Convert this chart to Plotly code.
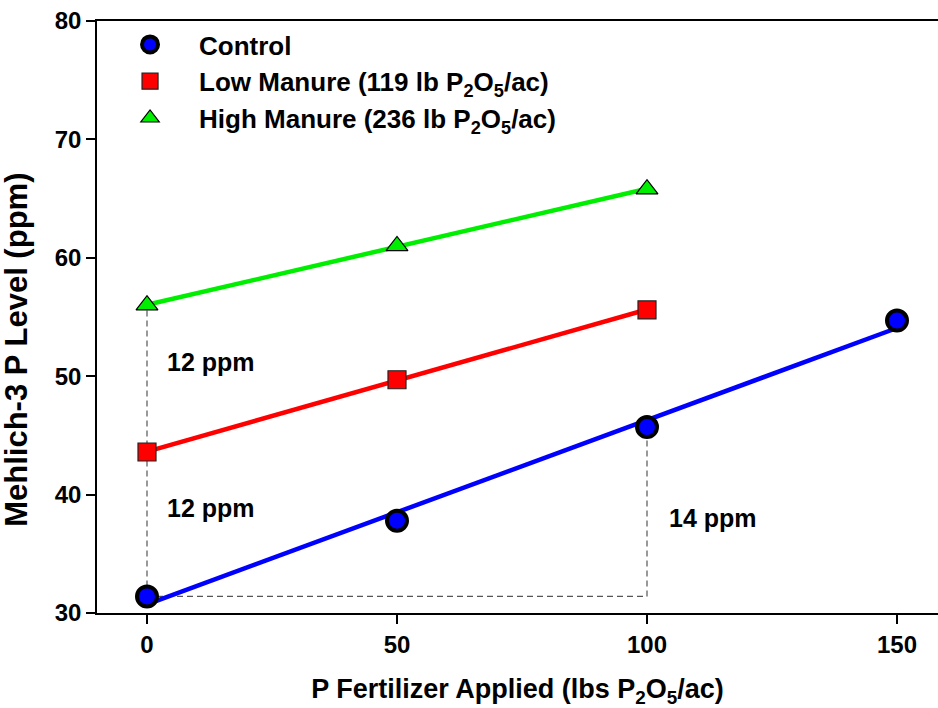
import numpy as np
import plotly.graph_objects as go

# P fertilizer rates (lbs P2O5/ac)
control_x = [0, 50, 100, 150]
manure_x = [0, 50, 100]

# Mehlich-3 soil test P (ppm)
control_y = [31.4, 37.8, 45.7, 54.7]
low_manure_y = [43.6, 49.7, 55.6]
high_manure_y = [56.0, 61.0, 65.8]

series_names = [
    "Control",
    "Low Manure (119 lb P<sub>2</sub>O<sub>5</sub>/ac)",
    "High Manure (236 lb P<sub>2</sub>O<sub>5</sub>/ac)",
]

diff_labels = ["12 ppm", "12 ppm", "14 ppm"]

x_ticks = [0, 50, 100, 150]
y_ticks = [30, 40, 50, 60, 70, 80]

FONT = "Liberation Sans, Arial, Helvetica, sans-serif"
DASH = dict(color="#555555", width=1.2, dash="6px,4px")

fig = go.Figure()

# dashed guides showing the P increase between treatments
fig.add_trace(go.Scatter(
    x=[control_x[0], control_x[0]], y=[control_y[0], high_manure_y[0]],
    mode="lines", line=DASH, showlegend=False, hoverinfo="skip"))
fig.add_trace(go.Scatter(
    x=[control_x[0], control_x[2], control_x[2]],
    y=[control_y[0], control_y[0], control_y[2]],
    mode="lines", line=DASH, showlegend=False, hoverinfo="skip"))

specs = [
    (control_x, control_y, series_names[0], "#0000ff",
     dict(symbol="circle", size=20, color="#0000ff", line=dict(color="black", width=4))),
    (manure_x, low_manure_y, series_names[1], "#ff0000",
     dict(symbol="square", size=18, color="#ff0000", line=dict(color="#222222", width=1.2))),
    (manure_x, high_manure_y, series_names[2], "#00ee00",
     dict(symbol="triangle-up", size=19, color="#00ee00", line=dict(color="black", width=1.2))),
]

# linear fit for each treatment
for xs, ys, name, col, mk in specs:
    slope, intercept = np.polyfit(xs, ys, 1)
    fx = np.array([min(xs), max(xs)], dtype=float)
    fig.add_trace(go.Scatter(
        x=fx, y=slope * fx + intercept, mode="lines",
        line=dict(color=col, width=4.5), showlegend=False, hoverinfo="skip"))

for xs, ys, name, col, mk in specs:
    fig.add_trace(go.Scatter(x=xs, y=ys, mode="markers", name=name, marker=mk))

label_pos = [(3.6, 51.2), (3.6, 38.9), (104, 38.0)]
for text, (ax, ay) in zip(diff_labels, label_pos):
    fig.add_annotation(x=ax, y=ay, text=f"<b>{text}</b>", showarrow=False,
                       xanchor="left", yanchor="middle",
                       font=dict(family=FONT, size=25, color="black"))

# y-axis title
fig.add_annotation(
    xref="paper", yref="paper", x=-0.096, y=0.445,
    xanchor="center", yanchor="middle", textangle=-90, showarrow=False,
    text="<b>Mehlich-3 P Level (ppm)</b>",
    font=dict(family=FONT, size=31, color="black"))

fig.update_layout(
    width=938, height=708,
    margin=dict(l=97, r=0, t=21, b=95),
    paper_bgcolor="white", plot_bgcolor="white",
    font=dict(family=FONT, color="black"),
    showlegend=True,
    legend=dict(
        x=0.0048, y=1.0, xanchor="left", yanchor="top",
        bgcolor="rgba(0,0,0,0)", itemwidth=88,
        font=dict(family=FONT, size=26, color="black", weight="bold"),
        tracegroupgap=0,
    ),
    xaxis=dict(
        range=[-10, 158.2], tickvals=x_ticks,
        showgrid=False, zeroline=False,
        showline=True, linecolor="black", linewidth=1.5, mirror=True,
        ticks="outside", ticklen=9, tickwidth=1.5, tickcolor="black",
        tickfont=dict(family=FONT, size=24, color="black", weight="bold"),
        title=dict(text="<b>P Fertilizer Applied (lbs P<sub>2</sub>O<sub>5</sub>/ac)</b>",
                   font=dict(family=FONT, size=27, color="black"), standoff=23),
    ),
    yaxis=dict(
        range=[30, 80], tickvals=y_ticks,
        showgrid=False, zeroline=False,
        showline=True, linecolor="black", linewidth=1.5,
        ticks="outside", ticklen=9, tickwidth=1.5, tickcolor="black",
        tickfont=dict(family=FONT, size=24, color="black", weight="bold"),
    ),
)

fig.write_html("out.html")
